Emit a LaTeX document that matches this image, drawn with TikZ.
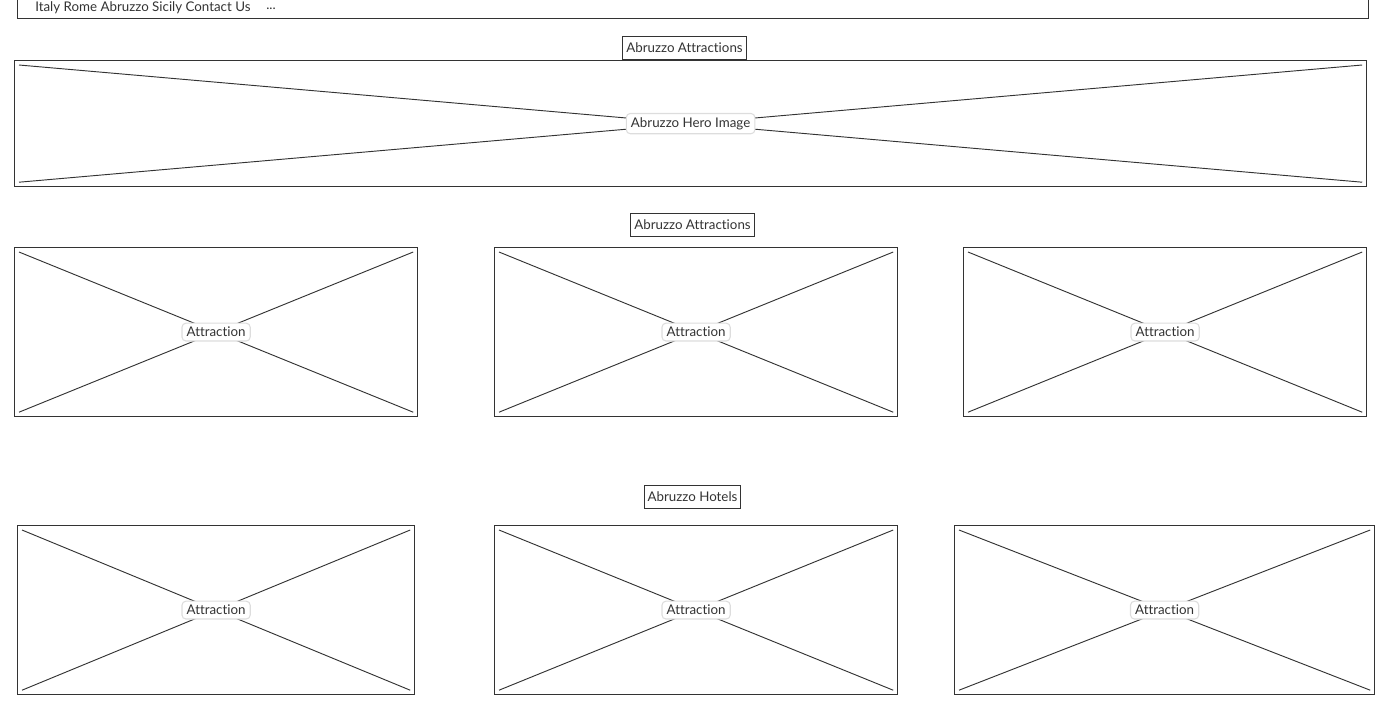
\documentclass[tikz,border=0pt]{standalone}
\usepackage{fontspec}
\setmainfont{Lato}[Ligatures={NoCommon}]
\usetikzlibrary{calc}
\definecolor{ink}{HTML}{333333}
\definecolor{soft}{HTML}{DDDDDD}
\newcommand\imgbox[6]{%
  \node[frame,minimum width={(#4-#2)*0.75pt},minimum height={(#5-#3)*0.75pt},anchor=north west] (#1) at (#2,#3) {};
  \draw[cross] ($(#1.north west)+(5,5)$) -- ($(#1.south east)+(-5,-5)$);
  \draw[cross] ($(#1.north east)+(-5,5)$) -- ($(#1.south west)+(5,-5)$);
  \node[tag] (#1-l) at (#1.center) {#6};}
\begin{document}
\begin{tikzpicture}[x=0.75pt,y=-0.75pt,
  frame/.style={draw=ink,line width=0.9pt,inner sep=0pt},
  cross/.style={draw=ink,line width=0.7pt},
  tag/.style={draw=soft,fill=white,rounded corners=3pt,line width=0.8pt,
    font=\fontsize{10pt}{12pt}\selectfont,text=ink,inner xsep=3.5pt,inner ysep=3pt},
  title/.style={draw=ink,fill=white,line width=0.75pt,
    font=\fontsize{10pt}{12pt}\selectfont,text=ink,minimum height=23*0.75pt,inner xsep=2.6pt},
  navtext/.style={font=\fontsize{10pt}{12pt}\selectfont,text=ink,inner sep=0pt}]
\useasboundingbox (0,0) rectangle (1385,714);
\clip (0,0) rectangle (1385,714);
% navigation bar
\node[frame,anchor=south west,minimum width=1351*0.75pt,minimum height=30*0.75pt] (nav) at (17,19) {};
\node[navtext,anchor=west] (navitems) at (35,8) {Italy Rome Abruzzo Sicily Contact Us};
\node[navtext,anchor=west] (navmore) at (266,9) {...};
% hero
\node[title] (t1) at (684.5,47.5) {Abruzzo Attractions};
\imgbox{hero}{14}{60}{1366}{186}{Abruzzo Hero Image}
% attractions
\node[title] (t2) at (692.5,224.5) {Abruzzo Attractions};
\imgbox{a1}{14}{247}{417}{416}{Attraction}
\imgbox{a2}{494}{247}{897}{416}{Attraction}
\imgbox{a3}{963}{247}{1366}{416}{Attraction}
% hotels
\node[title] (t3) at (692.5,496.5) {Abruzzo Hotels};
\imgbox{h1}{17}{525}{414}{694}{Attraction}
\imgbox{h2}{494}{525}{897}{694}{Attraction}
\imgbox{h3}{954}{525}{1374}{694}{Attraction}
\end{tikzpicture}
\end{document}
